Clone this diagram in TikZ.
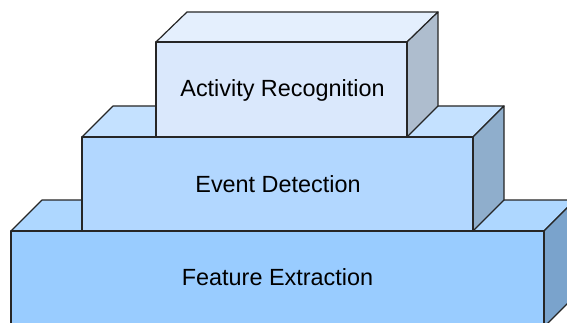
\documentclass[tikz,border=0pt]{standalone}
\usepackage{fontspec}
\setmainfont{Liberation Sans}

\definecolor{topfront}{HTML}{DAE8FC}
\definecolor{toptop}{HTML}{E4EFFD}
\definecolor{topside}{HTML}{AEBDCE}
\definecolor{midfront}{HTML}{B2D7FF}
\definecolor{midtop}{HTML}{C4E1FF}
\definecolor{midside}{HTML}{8FAECC}
\definecolor{lowfront}{HTML}{99CCFF}
\definecolor{lowtop}{HTML}{AED7FF}
\definecolor{lowside}{HTML}{7AA3CC}

\tikzset{
  face/.style={draw=black!85, line width=1.2pt, line join=round},
  label/.style={font=\fontsize{23.4}{28}\selectfont, text=black}
}

\begin{document}
\begin{tikzpicture}[x=1pt, y=-1pt]
\useasboundingbox (0,0) rectangle (567,323);
\clip (0,0) rectangle (567,323);

% feature extraction (bottom)
\draw[face, fill=lowtop] (11,231) -- (42,200) -- (575,200) -- (544,231) -- cycle;
\draw[face, fill=lowside] (544,231) -- (575,200) -- (575,296) -- (544,327) -- cycle;
\draw[face, fill=lowfront] (11,231) rectangle (544,327);
\node[label] (feature) at (277.5,277) {Feature Extraction};

% event detection (middle)
\draw[face, fill=midtop] (82,137) -- (113,106) -- (504,106) -- (473,137) -- cycle;
\draw[face, fill=midside] (473,137) -- (504,106) -- (504,200) -- (473,231) -- cycle;
\draw[face, fill=midfront] (82,137) rectangle (473,231);
\node[label] (event) at (278,184) {Event Detection};

% activity recognition (top)
\draw[face, fill=toptop] (156,42) -- (187,12) -- (438,12) -- (407,42) -- cycle;
\draw[face, fill=topside] (407,42) -- (438,12) -- (438,106) -- (407,137) -- cycle;
\draw[face, fill=topfront] (156,42) rectangle (407,137);
\node[label] (activity) at (282.5,90) {Activity Recognition};
\end{tikzpicture}
\end{document}
